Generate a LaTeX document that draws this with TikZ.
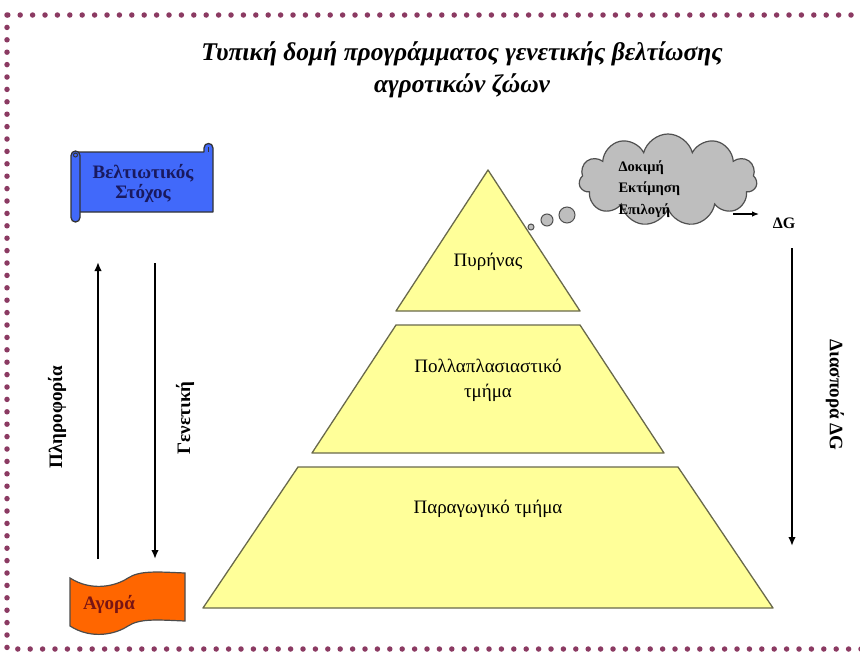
\documentclass[tikz,border=0pt]{standalone}
\usepackage{fontspec}
\setmainfont{Liberation Serif}
\usetikzlibrary{arrows.meta,shapes.symbols,positioning}

\definecolor{dotred}{RGB}{139,58,98}
\definecolor{pyryellow}{RGB}{255,255,153}
\definecolor{pyredge}{RGB}{105,105,75}
\definecolor{scrollblue}{RGB}{65,105,250}
\definecolor{goalnavy}{RGB}{25,25,95}
\definecolor{marketorange}{RGB}{255,102,0}
\definecolor{marketred}{RGB}{120,20,20}
\definecolor{cloudgray}{RGB}{190,190,190}
\definecolor{cloudedge}{RGB}{80,80,80}

\tikzset{
  level/.style={fill=pyryellow,draw=pyredge,line width=1.3pt,line join=round},
  flow/.style={line width=1.8pt,-{Latex[length=9pt,width=7.5pt]}},
  smallflow/.style={line width=1.2pt,-{Latex[length=7pt,width=5.5pt]}},
  leveltext/.style={align=center,font=\fontsize{19}{25}\selectfont},
  sidetext/.style={font=\bfseries\fontsize{19}{22}\selectfont},
  bubble/.style={circle,draw=cloudedge,fill=cloudgray,line width=1pt,inner sep=0pt}
}

\begin{document}
\begin{tikzpicture}[x=1pt,y=-1pt]
\useasboundingbox (0,0) rectangle (860,654);

    % dotted frame
    \draw[dotred,line width=5.5pt,line cap=round,dash pattern=on 0pt off 12.4pt] (7,15) rectangle (880,649);

    \node[align=center,font=\bfseries\itshape\fontsize{25.5}{32}\selectfont] (title) at (462,70)
        {Τυπική δομή προγράμματος γενετικής βελτίωσης\\αγροτικών ζώων};

    % pyramid
    \draw[level] (488,170) -- (580,311) -- (396,311) -- cycle;
    \draw[level] (396,325) -- (580,325) -- (664,453) -- (312,453) -- cycle;
    \draw[level] (298,467) -- (678,467) -- (773,608) -- (203,608) -- cycle;
    \node[leveltext] (core) at (488,262) {Πυρήνας};
    \node[leveltext] (mult) at (488,380) {Πολλαπλασιαστικό\\τμήμα};
    \node[leveltext] (prod) at (488,509) {Παραγωγικό τμήμα};

    % scroll
    \draw[fill=scrollblue,draw=black!80,line width=1.3pt,line join=round] (78,152) -- (204,152) -- (204,148)
        .. controls (204,142) and (213,142) .. (213,148) -- (213,212) -- (78,212) -- cycle;
    \draw[black!80,line width=1pt] (208,147) -- (208,152);
    \draw[fill=scrollblue,draw=black!80,line width=1.3pt,rounded corners=4.5pt] (71,151) rectangle (80,222);
    \draw[black!80,line width=1pt] (75.5,155) circle (2pt);
    \node[align=center,text=goalnavy,font=\bfseries\fontsize{19}{20}\selectfont] (goal) at (143,183) {Βελτιωτικός\\Στόχος};

    % market
    \draw[fill=marketorange,draw=black!70,line width=1.2pt] (70,578)
        .. controls (92,592) and (116,586) .. (128,578) .. controls (140,570) and (160,572) .. (185,573)
        -- (185,621) .. controls (160,620) and (140,618) .. (128,626)
        .. controls (116,634) and (92,640) .. (70,626) -- cycle;
    \node[text=marketred,font=\bfseries\fontsize{19}{22}\selectfont] (market) at (109,604) {Αγορά};

    % left arrows
    \coordinate (info-s) at (98,559);
    \coordinate (info-e) at (98,262);
    \coordinate (gen-s) at (155,263);
    \coordinate (gen-e) at (155,559);
    \draw[flow] (info-s) -- (info-e);
    \draw[flow] (gen-s) -- (gen-e);
    \node[sidetext,rotate=90] (info) at (57,417) {Πληροφορία};
    \node[sidetext,rotate=90] (gen) at (185,418) {Γενετική};

    % cloud
    \node[cloud,cloud puffs=11,cloud ignores aspect,minimum width=178pt,minimum height=92pt,
        fill=cloudgray,draw=cloudedge,line width=1.2pt] (cloud) at (668,180) {};
    \node[align=left,anchor=west,font=\bfseries\fontsize{14.5}{21.5}\selectfont] (tests) at (615,189)
        {Δοκιμή\\Εκτίμηση\\Επιλογή};
    \node[bubble,minimum size=16pt] (b3) at (567,215) {};
    \node[bubble,minimum size=12pt] (b2) at (547,220) {};
    \node[bubble,minimum size=6pt] (b1) at (531,227) {};

    \node[font=\bfseries\fontsize{16}{18}\selectfont] (dg) at (784,223) {ΔG};
    \coordinate (cl-out) at (733,214);
    \coordinate (cl-in) at (759,214);
    \draw[smallflow] (cl-out) -- (cl-in);

    % right arrow
    \coordinate (sp-s) at (792,248);
    \coordinate (sp-e) at (792,546);
    \draw[flow] (sp-s) -- (sp-e);
    \node[sidetext,rotate=-90] (spread) at (835,395) {Διασπορά ΔG};
\end{tikzpicture}
\end{document}
